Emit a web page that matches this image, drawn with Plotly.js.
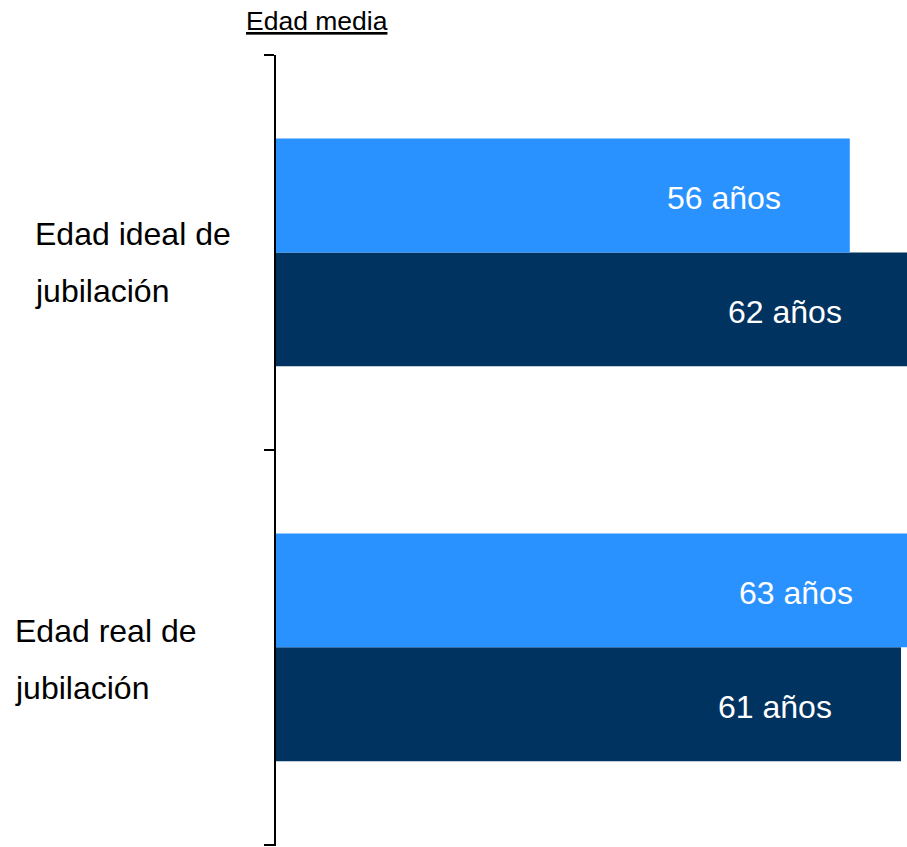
<!DOCTYPE html>
<html>
<head>
<meta charset="utf-8">
<script src="https://cdn.plot.ly/plotly-3.0.1.min.js"></script>
<style>
html, body { margin: 0; padding: 0; overflow: hidden; background: #fff; }
#chart { width: 942px; height: 847px; }
</style>
</head>
<body>
<div id="chart"></div>
<script>
// Data
const categories = ["Edad ideal de jubilación", "Edad real de jubilación"];
const categoryLines = [["Edad ideal de", "jubilación"], ["Edad real de", "jubilación"]];
const seriesNames = ["Serie 1", "Serie 2"];
const seriesA = [56, 63];   // light blue (upper bar)
const seriesB = [62, 61];   // dark blue (lower bar)
const unitLabel = "años";
const axisTitle = "Edad media";

const FONT = '"Liberation Sans", Arial, sans-serif';
const LIGHT = '#2992FF';
const DARK = '#00335F';

// bottom-to-top order for a non-reversed category axis
const yOrder = categories.slice().reverse();

const traces = [
  { type: 'bar', orientation: 'h', name: seriesNames[1], y: categories, x: seriesB,
    marker: { color: DARK }, hoverinfo: 'skip' },
  { type: 'bar', orientation: 'h', name: seriesNames[0], y: categories, x: seriesA,
    marker: { color: LIGHT }, hoverinfo: 'skip' }
];

const annotations = [];
// value labels
[seriesA, seriesB].forEach((vals, si) => {
  vals.forEach((v, ci) => {
    annotations.push({
      xref: 'x', yref: 'y', x: v, y: categories[ci],
      text: v + ' ' + unitLabel, showarrow: false,
      xanchor: 'right', yanchor: 'middle',
      xshift: -67, yshift: si === 0 ? 54 : -60,
      font: { family: FONT, size: 32, color: '#ffffff' }
    });
  });
});
// category labels (two lines each)
const catX = [-243, -263];
const catY = [[18, -39], [16, -41]];
categoryLines.forEach((lines, ci) => {
  lines.forEach((ln, li) => {
    annotations.push({
      xref: 'paper', yref: 'y', x: 0, y: categories[ci],
      text: ln, showarrow: false, align: 'left',
      xanchor: 'left', yanchor: 'middle',
      xshift: catX[ci], yshift: catY[ci][li],
      font: { family: FONT, size: 32, color: '#000000' }
    });
  });
});
// axis title
annotations.push({
  xref: 'paper', yref: 'paper', x: 0, y: 1,
  text: '<u>' + axisTitle + '</u>', showarrow: false,
  xanchor: 'left', yanchor: 'middle', xshift: -32, yshift: 34,
  font: { family: FONT, size: 26.5, color: '#000000' }
});

const layout = {
  width: 942, height: 847,
  margin: { l: 276, r: 0, t: 55, b: 1, pad: 0 },
  paper_bgcolor: '#ffffff', plot_bgcolor: '#ffffff',
  barmode: 'group', bargap: 0.4235, bargroupgap: 0,
  showlegend: false,
  xaxis: { range: [0, 65], visible: false, fixedrange: true },
  yaxis: {
    type: 'category', categoryorder: 'array', categoryarray: yOrder,
    range: [-0.503, 1.5], autorange: false,
    showline: true, linecolor: '#000000', linewidth: 2,
    ticks: 'outside', tickson: 'boundaries', ticklen: 10, tickwidth: 2, tickcolor: '#000000',
    showticklabels: false, showgrid: false, zeroline: false, fixedrange: true
  },
  annotations: annotations,
  font: { family: FONT }
};

Plotly.newPlot('chart', traces, layout, { displayModeBar: false, staticPlot: true });
</script>
</body>
</html>
